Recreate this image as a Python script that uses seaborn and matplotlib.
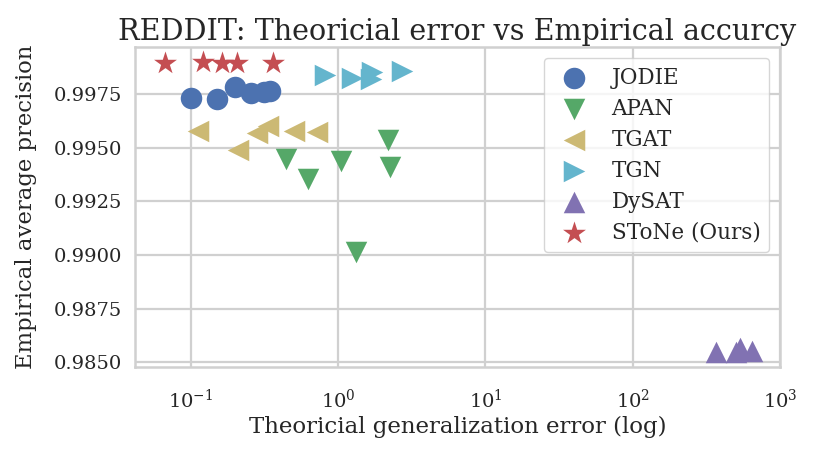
import numpy as np
import pandas as pd
import matplotlib
matplotlib.use("Agg")
import matplotlib.pyplot as plt
import seaborn as sns

# values
models = ["JODIE", "APAN", "TGAT", "TGN", "DySAT", "SToNe (Ours)"]

jodie_err = [0.100, 0.151, 0.198, 0.256, 0.315, 0.344]
jodie_ap = [0.99733, 0.99725, 0.99781, 0.99756, 0.99758, 0.99764]

apan_err = [0.442, 0.621, 1.045, 2.19, 2.25, 1.315]
apan_ap = [0.99447, 0.99353, 0.99439, 0.99536, 0.99411, 0.99015]

tgat_err = [0.112, 0.2096, 0.279, 0.335, 0.503, 0.714]
tgat_ap = [0.99578, 0.99489, 0.99567, 0.99601, 0.99579, 0.99572]

tgn_err = [0.813, 1.241, 1.66, 1.698, 2.70]
tgn_ap = [0.99836, 0.99826, 0.99820, 0.99850, 0.99859]

dysat_err = [367, 500, 531, 644]
dysat_ap = [0.98549, 0.98548, 0.98565, 0.98554]

stone_err = [0.0666, 0.120, 0.1617, 0.2064, 0.362]
stone_ap = [0.99896, 0.99898, 0.99896, 0.99896, 0.99894]

all_err = [jodie_err, apan_err, tgat_err, tgn_err, dysat_err, stone_err]
all_ap = [jodie_ap, apan_ap, tgat_ap, tgn_ap, dysat_ap, stone_ap]

rows = []
for m, e, a in zip(models, all_err, all_ap):
    for xi, yi in zip(e, a):
        rows.append({"model": m, "err": xi, "ap": yi})
data = pd.DataFrame(rows)

colors = {"JODIE": "#4C72B0", "APAN": "#55A868", "TGAT": "#CCB974",
          "TGN": "#64B5CD", "DySAT": "#8172B2", "SToNe (Ours)": "#C44E52"}
marks = {"JODIE": "o", "APAN": "v", "TGAT": "<", "TGN": ">",
         "DySAT": "^", "SToNe (Ours)": "*"}

sns.set_theme(style="whitegrid")
plt.rcParams["font.family"] = ["DejaVu Serif"]
plt.rcParams["grid.linewidth"] = 1.6
plt.rcParams["grid.color"] = "#d0d0d0"

fig, ax = plt.subplots(figsize=(8.13, 4.51), dpi=100)
fig.subplots_adjust(left=0.166, right=0.9594, top=0.8965, bottom=0.1856)

for m in models:
    sub = data[data["model"] == m]
    sns.scatterplot(
        data=sub, x="err", y="ap",
        color=colors[m], marker=marks[m],
        s=300 if m == "SToNe (Ours)" else 240,
        linewidth=0, label=m, ax=ax
    )

ax.set_xscale("log")
ax.set_xlim(0.0417, 1000)
ax.set_ylim(0.98477, 0.99970)
ax.set_yticks([0.9850, 0.9875, 0.9900, 0.9925, 0.9950, 0.9975])
ax.set_yticklabels(["0.9850", "0.9875", "0.9900", "0.9925", "0.9950", "0.9975"])
ax.tick_params(labelsize=14)
ax.tick_params(axis="x", pad=9)
for sp in ax.spines.values():
    sp.set_color("#d0d0d0")
    sp.set_linewidth(1.8)

ax.set_title("REDDIT: Theoricial error vs Empirical accurcy", fontsize=20.6, pad=5)
ax.set_xlabel("Theoricial generalization error (log)", fontsize=16.5, labelpad=3)
ax.set_ylabel("Empirical average precision", fontsize=16.4, labelpad=12)
ax.legend(loc="upper right", fontsize=15.5, markerscale=1.0, labelspacing=0.42,
          bbox_to_anchor=(0.983, 0.9646), borderaxespad=0, borderpad=0.4,
          handletextpad=0.75)

plt.savefig("out.png", dpi=100)
